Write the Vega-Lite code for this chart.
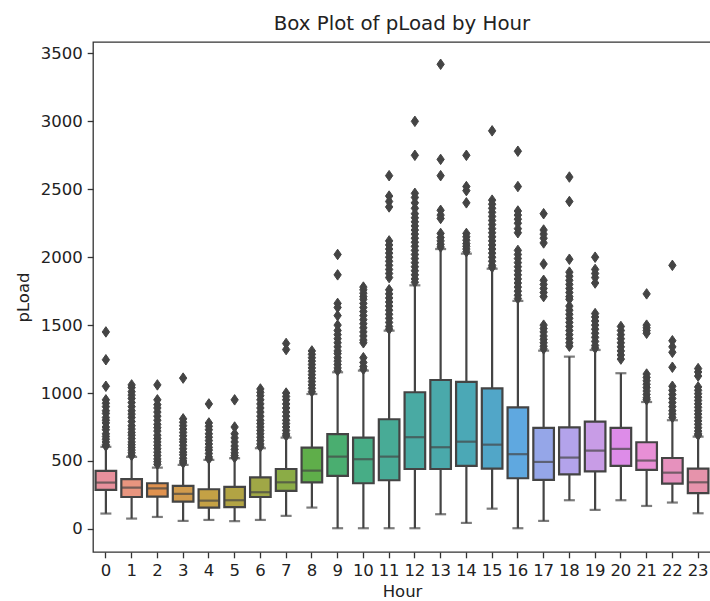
{
  "$schema": "https://vega.github.io/schema/vega-lite/v6.json",
  "autosize": "none",
  "padding": {"left": 93, "top": 42, "right": 0, "bottom": 49},
  "width": 618,
  "height": 510,
  "background": "white",
  "config": {
    "font": "DejaVu Sans",
    "view": {"stroke": "#333333", "strokeWidth": 1.3},
    "axis": {
      "domain": false,
      "grid": false,
      "tickColor": "#333333",
      "tickSize": 5.8,
      "tickWidth": 1.3,
      "labelFont": "DejaVu Sans",
      "labelFontSize": 16.5,
      "labelColor": "#222222",
      "labelPadding": 5,
      "titleFont": "DejaVu Sans",
      "titleFontSize": 16.5,
      "titleFontWeight": "normal",
      "titleColor": "#222222"
    }
  },
  "title": {
    "text": "Box Plot of pLoad by Hour",
    "font": "DejaVu Sans",
    "fontSize": 19.8,
    "fontWeight": "normal",
    "color": "#222222",
    "anchor": "middle",
    "offset": 8
  },
  "datasets": {
    "boxes": [
      {"Hour": 0, "low": 113, "q1": 287, "median": 341, "q3": 427, "high": 604},
      {"Hour": 1, "low": 76, "q1": 235, "median": 304, "q3": 366, "high": 530},
      {"Hour": 2, "low": 88, "q1": 238, "median": 299, "q3": 336, "high": 451},
      {"Hour": 3, "low": 59, "q1": 201, "median": 258, "q3": 316, "high": 471},
      {"Hour": 4, "low": 66, "q1": 157, "median": 208, "q3": 292, "high": 508},
      {"Hour": 5, "low": 57, "q1": 160, "median": 211, "q3": 309, "high": 520},
      {"Hour": 6, "low": 66, "q1": 235, "median": 270, "q3": 380, "high": 594},
      {"Hour": 7, "low": 96, "q1": 280, "median": 343, "q3": 441, "high": 672},
      {"Hour": 8, "low": 157, "q1": 343, "median": 429, "q3": 598, "high": 993},
      {"Hour": 9, "low": 5, "q1": 390, "median": 532, "q3": 697, "high": 1153},
      {"Hour": 10, "low": 5, "q1": 336, "median": 513, "q3": 672, "high": 1165},
      {"Hour": 11, "low": 5, "q1": 358, "median": 532, "q3": 807, "high": 1459},
      {"Hour": 12, "low": 5, "q1": 441, "median": 675, "q3": 1006, "high": 1793},
      {"Hour": 13, "low": 108, "q1": 441, "median": 601, "q3": 1096, "high": 2060},
      {"Hour": 14, "low": 44, "q1": 464, "median": 642, "q3": 1082, "high": 2026},
      {"Hour": 15, "low": 149, "q1": 444, "median": 620, "q3": 1035, "high": 1915},
      {"Hour": 16, "low": 5, "q1": 373, "median": 550, "q3": 895, "high": 1678},
      {"Hour": 17, "low": 59, "q1": 361, "median": 493, "q3": 743, "high": 1312},
      {"Hour": 18, "low": 211, "q1": 402, "median": 525, "q3": 748, "high": 1268},
      {"Hour": 19, "low": 140, "q1": 424, "median": 576, "q3": 790, "high": 1317},
      {"Hour": 20, "low": 211, "q1": 464, "median": 589, "q3": 743, "high": 1146},
      {"Hour": 21, "low": 169, "q1": 434, "median": 503, "q3": 638, "high": 934},
      {"Hour": 22, "low": 194, "q1": 333, "median": 414, "q3": 522, "high": 800},
      {"Hour": 23, "low": 115, "q1": 263, "median": 343, "q3": 444, "high": 679}
    ],
    "outliers": [
      {"Hour":0,"pLoad":1450},{"Hour":0,"pLoad":1245},{"Hour":0,"pLoad":1050},{"Hour":0,"pLoad":950},{"Hour":0,"pLoad":925},{"Hour":0,"pLoad":900},{"Hour":0,"pLoad":870},{"Hour":0,"pLoad":850},{"Hour":0,"pLoad":820},{"Hour":0,"pLoad":800},{"Hour":0,"pLoad":780},{"Hour":0,"pLoad":750},{"Hour":0,"pLoad":730},{"Hour":0,"pLoad":700},{"Hour":0,"pLoad":680},{"Hour":0,"pLoad":660},{"Hour":0,"pLoad":640},{"Hour":0,"pLoad":620},{"Hour":0,"pLoad":610},
      {"Hour":1,"pLoad":1060},{"Hour":1,"pLoad":1040},{"Hour":1,"pLoad":1010},{"Hour":1,"pLoad":985},{"Hour":1,"pLoad":960},{"Hour":1,"pLoad":930},{"Hour":1,"pLoad":900},{"Hour":1,"pLoad":870},{"Hour":1,"pLoad":845},{"Hour":1,"pLoad":820},{"Hour":1,"pLoad":790},{"Hour":1,"pLoad":760},{"Hour":1,"pLoad":735},{"Hour":1,"pLoad":710},{"Hour":1,"pLoad":690},{"Hour":1,"pLoad":665},{"Hour":1,"pLoad":640},{"Hour":1,"pLoad":620},{"Hour":1,"pLoad":600},{"Hour":1,"pLoad":580},{"Hour":1,"pLoad":560},{"Hour":1,"pLoad":540},
      {"Hour":2,"pLoad":1060},{"Hour":2,"pLoad":950},{"Hour":2,"pLoad":915},{"Hour":2,"pLoad":890},{"Hour":2,"pLoad":860},{"Hour":2,"pLoad":830},{"Hour":2,"pLoad":800},{"Hour":2,"pLoad":770},{"Hour":2,"pLoad":745},{"Hour":2,"pLoad":720},{"Hour":2,"pLoad":690},{"Hour":2,"pLoad":665},{"Hour":2,"pLoad":640},{"Hour":2,"pLoad":615},{"Hour":2,"pLoad":590},{"Hour":2,"pLoad":565},{"Hour":2,"pLoad":540},{"Hour":2,"pLoad":515},{"Hour":2,"pLoad":495},{"Hour":2,"pLoad":475},
      {"Hour":3,"pLoad":1110},{"Hour":3,"pLoad":810},{"Hour":3,"pLoad":785},{"Hour":3,"pLoad":760},{"Hour":3,"pLoad":735},{"Hour":3,"pLoad":710},{"Hour":3,"pLoad":685},{"Hour":3,"pLoad":660},{"Hour":3,"pLoad":640},{"Hour":3,"pLoad":615},{"Hour":3,"pLoad":590},{"Hour":3,"pLoad":565},{"Hour":3,"pLoad":545},{"Hour":3,"pLoad":520},{"Hour":3,"pLoad":500},{"Hour":3,"pLoad":485},
      {"Hour":4,"pLoad":920},{"Hour":4,"pLoad":780},{"Hour":4,"pLoad":755},{"Hour":4,"pLoad":730},{"Hour":4,"pLoad":700},{"Hour":4,"pLoad":675},{"Hour":4,"pLoad":650},{"Hour":4,"pLoad":625},{"Hour":4,"pLoad":600},{"Hour":4,"pLoad":580},{"Hour":4,"pLoad":555},{"Hour":4,"pLoad":530},{"Hour":4,"pLoad":515},
      {"Hour":5,"pLoad":950},{"Hour":5,"pLoad":750},{"Hour":5,"pLoad":700},{"Hour":5,"pLoad":670},{"Hour":5,"pLoad":640},{"Hour":5,"pLoad":610},{"Hour":5,"pLoad":585},{"Hour":5,"pLoad":560},{"Hour":5,"pLoad":540},{"Hour":5,"pLoad":525},
      {"Hour":6,"pLoad":1030},{"Hour":6,"pLoad":1005},{"Hour":6,"pLoad":980},{"Hour":6,"pLoad":950},{"Hour":6,"pLoad":920},{"Hour":6,"pLoad":890},{"Hour":6,"pLoad":860},{"Hour":6,"pLoad":830},{"Hour":6,"pLoad":800},{"Hour":6,"pLoad":775},{"Hour":6,"pLoad":750},{"Hour":6,"pLoad":725},{"Hour":6,"pLoad":700},{"Hour":6,"pLoad":675},{"Hour":6,"pLoad":650},{"Hour":6,"pLoad":625},{"Hour":6,"pLoad":605},
      {"Hour":7,"pLoad":1365},{"Hour":7,"pLoad":1320},{"Hour":7,"pLoad":1000},{"Hour":7,"pLoad":975},{"Hour":7,"pLoad":950},{"Hour":7,"pLoad":920},{"Hour":7,"pLoad":890},{"Hour":7,"pLoad":860},{"Hour":7,"pLoad":830},{"Hour":7,"pLoad":800},{"Hour":7,"pLoad":775},{"Hour":7,"pLoad":750},{"Hour":7,"pLoad":725},{"Hour":7,"pLoad":700},{"Hour":7,"pLoad":685},
      {"Hour":8,"pLoad":1310},{"Hour":8,"pLoad":1285},{"Hour":8,"pLoad":1260},{"Hour":8,"pLoad":1235},{"Hour":8,"pLoad":1210},{"Hour":8,"pLoad":1185},{"Hour":8,"pLoad":1160},{"Hour":8,"pLoad":1135},{"Hour":8,"pLoad":1110},{"Hour":8,"pLoad":1085},{"Hour":8,"pLoad":1060},{"Hour":8,"pLoad":1035},{"Hour":8,"pLoad":1010},
      {"Hour":9,"pLoad":2020},{"Hour":9,"pLoad":1870},{"Hour":9,"pLoad":1660},{"Hour":9,"pLoad":1630},{"Hour":9,"pLoad":1570},{"Hour":9,"pLoad":1500},{"Hour":9,"pLoad":1460},{"Hour":9,"pLoad":1430},{"Hour":9,"pLoad":1400},{"Hour":9,"pLoad":1370},{"Hour":9,"pLoad":1340},{"Hour":9,"pLoad":1310},{"Hour":9,"pLoad":1290},{"Hour":9,"pLoad":1260},{"Hour":9,"pLoad":1235},{"Hour":9,"pLoad":1210},{"Hour":9,"pLoad":1185},{"Hour":9,"pLoad":1165},
      {"Hour":10,"pLoad":1780},{"Hour":10,"pLoad":1760},{"Hour":10,"pLoad":1735},{"Hour":10,"pLoad":1710},{"Hour":10,"pLoad":1690},{"Hour":10,"pLoad":1660},{"Hour":10,"pLoad":1630},{"Hour":10,"pLoad":1600},{"Hour":10,"pLoad":1570},{"Hour":10,"pLoad":1540},{"Hour":10,"pLoad":1510},{"Hour":10,"pLoad":1480},{"Hour":10,"pLoad":1450},{"Hour":10,"pLoad":1420},{"Hour":10,"pLoad":1390},{"Hour":10,"pLoad":1370},{"Hour":10,"pLoad":1260},{"Hour":10,"pLoad":1225},{"Hour":10,"pLoad":1195},{"Hour":10,"pLoad":1175},
      {"Hour":11,"pLoad":2600},{"Hour":11,"pLoad":2450},{"Hour":11,"pLoad":2410},{"Hour":11,"pLoad":2370},{"Hour":11,"pLoad":2120},{"Hour":11,"pLoad":2090},{"Hour":11,"pLoad":2060},{"Hour":11,"pLoad":2030},{"Hour":11,"pLoad":2000},{"Hour":11,"pLoad":1970},{"Hour":11,"pLoad":1940},{"Hour":11,"pLoad":1910},{"Hour":11,"pLoad":1880},{"Hour":11,"pLoad":1850},{"Hour":11,"pLoad":1760},{"Hour":11,"pLoad":1730},{"Hour":11,"pLoad":1700},{"Hour":11,"pLoad":1670},{"Hour":11,"pLoad":1640},{"Hour":11,"pLoad":1610},{"Hour":11,"pLoad":1580},{"Hour":11,"pLoad":1550},{"Hour":11,"pLoad":1520},{"Hour":11,"pLoad":1490},{"Hour":11,"pLoad":1470},
      {"Hour":12,"pLoad":3000},{"Hour":12,"pLoad":2750},{"Hour":12,"pLoad":2470},{"Hour":12,"pLoad":2440},{"Hour":12,"pLoad":2400},{"Hour":12,"pLoad":2360},{"Hour":12,"pLoad":2320},{"Hour":12,"pLoad":2290},{"Hour":12,"pLoad":2260},{"Hour":12,"pLoad":2230},{"Hour":12,"pLoad":2200},{"Hour":12,"pLoad":2170},{"Hour":12,"pLoad":2140},{"Hour":12,"pLoad":2110},{"Hour":12,"pLoad":2080},{"Hour":12,"pLoad":2050},{"Hour":12,"pLoad":2020},{"Hour":12,"pLoad":1990},{"Hour":12,"pLoad":1960},{"Hour":12,"pLoad":1930},{"Hour":12,"pLoad":1900},{"Hour":12,"pLoad":1870},{"Hour":12,"pLoad":1840},{"Hour":12,"pLoad":1815},
      {"Hour":13,"pLoad":3420},{"Hour":13,"pLoad":2720},{"Hour":13,"pLoad":2600},{"Hour":13,"pLoad":2345},{"Hour":13,"pLoad":2310},{"Hour":13,"pLoad":2285},{"Hour":13,"pLoad":2175},{"Hour":13,"pLoad":2145},{"Hour":13,"pLoad":2120},{"Hour":13,"pLoad":2095},{"Hour":13,"pLoad":2075},
      {"Hour":14,"pLoad":2750},{"Hour":14,"pLoad":2520},{"Hour":14,"pLoad":2490},{"Hour":14,"pLoad":2400},{"Hour":14,"pLoad":2175},{"Hour":14,"pLoad":2150},{"Hour":14,"pLoad":2125},{"Hour":14,"pLoad":2100},{"Hour":14,"pLoad":2080},{"Hour":14,"pLoad":2060},{"Hour":14,"pLoad":2040},
      {"Hour":15,"pLoad":2930},{"Hour":15,"pLoad":2420},{"Hour":15,"pLoad":2390},{"Hour":15,"pLoad":2360},{"Hour":15,"pLoad":2330},{"Hour":15,"pLoad":2300},{"Hour":15,"pLoad":2270},{"Hour":15,"pLoad":2240},{"Hour":15,"pLoad":2210},{"Hour":15,"pLoad":2180},{"Hour":15,"pLoad":2150},{"Hour":15,"pLoad":2120},{"Hour":15,"pLoad":2090},{"Hour":15,"pLoad":2060},{"Hour":15,"pLoad":2030},{"Hour":15,"pLoad":2000},{"Hour":15,"pLoad":1970},{"Hour":15,"pLoad":1940},{"Hour":15,"pLoad":1925},
      {"Hour":16,"pLoad":2780},{"Hour":16,"pLoad":2520},{"Hour":16,"pLoad":2340},{"Hour":16,"pLoad":2310},{"Hour":16,"pLoad":2280},{"Hour":16,"pLoad":2250},{"Hour":16,"pLoad":2210},{"Hour":16,"pLoad":2180},{"Hour":16,"pLoad":2050},{"Hour":16,"pLoad":2020},{"Hour":16,"pLoad":1990},{"Hour":16,"pLoad":1960},{"Hour":16,"pLoad":1930},{"Hour":16,"pLoad":1900},{"Hour":16,"pLoad":1870},{"Hour":16,"pLoad":1840},{"Hour":16,"pLoad":1810},{"Hour":16,"pLoad":1780},{"Hour":16,"pLoad":1750},{"Hour":16,"pLoad":1720},{"Hour":16,"pLoad":1695},
      {"Hour":17,"pLoad":2320},{"Hour":17,"pLoad":2200},{"Hour":17,"pLoad":2170},{"Hour":17,"pLoad":2140},{"Hour":17,"pLoad":2105},{"Hour":17,"pLoad":1950},{"Hour":17,"pLoad":1830},{"Hour":17,"pLoad":1800},{"Hour":17,"pLoad":1770},{"Hour":17,"pLoad":1740},{"Hour":17,"pLoad":1710},{"Hour":17,"pLoad":1500},{"Hour":17,"pLoad":1475},{"Hour":17,"pLoad":1450},{"Hour":17,"pLoad":1420},{"Hour":17,"pLoad":1395},{"Hour":17,"pLoad":1370},{"Hour":17,"pLoad":1345},{"Hour":17,"pLoad":1325},
      {"Hour":18,"pLoad":2590},{"Hour":18,"pLoad":2410},{"Hour":18,"pLoad":1985},{"Hour":18,"pLoad":1890},{"Hour":18,"pLoad":1860},{"Hour":18,"pLoad":1830},{"Hour":18,"pLoad":1800},{"Hour":18,"pLoad":1770},{"Hour":18,"pLoad":1740},{"Hour":18,"pLoad":1710},{"Hour":18,"pLoad":1690},{"Hour":18,"pLoad":1640},{"Hour":18,"pLoad":1610},{"Hour":18,"pLoad":1580},{"Hour":18,"pLoad":1550},{"Hour":18,"pLoad":1520},{"Hour":18,"pLoad":1490},{"Hour":18,"pLoad":1460},{"Hour":18,"pLoad":1430},{"Hour":18,"pLoad":1400},{"Hour":18,"pLoad":1370},{"Hour":18,"pLoad":1345},
      {"Hour":19,"pLoad":2000},{"Hour":19,"pLoad":1910},{"Hour":19,"pLoad":1880},{"Hour":19,"pLoad":1850},{"Hour":19,"pLoad":1810},{"Hour":19,"pLoad":1585},{"Hour":19,"pLoad":1560},{"Hour":19,"pLoad":1530},{"Hour":19,"pLoad":1500},{"Hour":19,"pLoad":1470},{"Hour":19,"pLoad":1440},{"Hour":19,"pLoad":1410},{"Hour":19,"pLoad":1380},{"Hour":19,"pLoad":1350},{"Hour":19,"pLoad":1330},
      {"Hour":20,"pLoad":1490},{"Hour":20,"pLoad":1460},{"Hour":20,"pLoad":1430},{"Hour":20,"pLoad":1400},{"Hour":20,"pLoad":1370},{"Hour":20,"pLoad":1340},{"Hour":20,"pLoad":1310},{"Hour":20,"pLoad":1280},{"Hour":20,"pLoad":1250},
      {"Hour":21,"pLoad":1730},{"Hour":21,"pLoad":1500},{"Hour":21,"pLoad":1480},{"Hour":21,"pLoad":1460},{"Hour":21,"pLoad":1440},{"Hour":21,"pLoad":1140},{"Hour":21,"pLoad":1115},{"Hour":21,"pLoad":1090},{"Hour":21,"pLoad":1065},{"Hour":21,"pLoad":1040},{"Hour":21,"pLoad":1015},{"Hour":21,"pLoad":990},{"Hour":21,"pLoad":965},{"Hour":21,"pLoad":950},
      {"Hour":22,"pLoad":1940},{"Hour":22,"pLoad":1385},{"Hour":22,"pLoad":1340},{"Hour":22,"pLoad":1300},{"Hour":22,"pLoad":1190},{"Hour":22,"pLoad":1050},{"Hour":22,"pLoad":1020},{"Hour":22,"pLoad":990},{"Hour":22,"pLoad":960},{"Hour":22,"pLoad":930},{"Hour":22,"pLoad":900},{"Hour":22,"pLoad":870},{"Hour":22,"pLoad":845},{"Hour":22,"pLoad":820},
      {"Hour":23,"pLoad":1180},{"Hour":23,"pLoad":1155},{"Hour":23,"pLoad":1125},{"Hour":23,"pLoad":1045},{"Hour":23,"pLoad":1020},{"Hour":23,"pLoad":995},{"Hour":23,"pLoad":970},{"Hour":23,"pLoad":945},{"Hour":23,"pLoad":920},{"Hour":23,"pLoad":895},{"Hour":23,"pLoad":870},{"Hour":23,"pLoad":845},{"Hour":23,"pLoad":820},{"Hour":23,"pLoad":795},{"Hour":23,"pLoad":770},{"Hour":23,"pLoad":745},{"Hour":23,"pLoad":720},{"Hour":23,"pLoad":700},{"Hour":23,"pLoad":690}
    ]
  },
  "encoding": {
    "x": {
      "field": "Hour",
      "type": "ordinal",
      "title": "Hour",
      "scale": {"paddingInner": 0, "paddingOuter": 0},
      "axis": {"labelAngle": 0, "titlePadding": 4}
    }
  },
  "layer": [
    {
      "data": {"name": "boxes"},
      "mark": {"type": "rule", "color": "#444444", "strokeWidth": 2.2},
      "encoding": {
        "y": {
          "field": "low",
          "type": "quantitative",
          "title": "pLoad",
          "scale": {"domain": [-170, 3584], "nice": false, "zero": false},
          "axis": {"values": [0, 500, 1000, 1500, 2000, 2500, 3000, 3500], "format": "d", "titlePadding": 9}
        },
        "y2": {"field": "high"}
      }
    },
    {
      "data": {"name": "boxes"},
      "mark": {"type": "tick", "color": "#444444", "size": 11, "thickness": 2.2, "orient": "horizontal"},
      "encoding": {"y": {"field": "low", "type": "quantitative"}}
    },
    {
      "data": {"name": "boxes"},
      "mark": {"type": "tick", "color": "#444444", "size": 11, "thickness": 2.2, "orient": "horizontal"},
      "encoding": {"y": {"field": "high", "type": "quantitative"}}
    },
    {
      "data": {"name": "boxes"},
      "mark": {"type": "bar", "width": {"band": 0.8}, "stroke": "#444444", "strokeWidth": 2.2, "fillOpacity": 1},
      "encoding": {
        "y": {"field": "q1", "type": "quantitative"},
        "y2": {"field": "q3"},
        "color": {
          "field": "Hour",
          "type": "ordinal",
          "legend": null,
          "scale": {
            "range": ["#e8909c", "#e8957f", "#e0924f", "#d19b4d", "#c4a145", "#b2a444", "#a0a746", "#8bac46", "#5fae4a", "#4aae70", "#47ad86", "#48ab96", "#49aaa3", "#4aa9ab", "#4ba8b6", "#51a6c8", "#5fa8e0", "#95a6e8", "#b3a3eb", "#c89ce6", "#dd8ce8", "#e88fd6", "#e691bd", "#e693ab"]
          }
        }
      }
    },
    {
      "data": {"name": "boxes"},
      "mark": {"type": "tick", "color": "#444444", "size": 20.6, "thickness": 2.2, "orient": "horizontal"},
      "encoding": {"y": {"field": "median", "type": "quantitative"}}
    },
    {
      "data": {"name": "outliers"},
      "mark": {"type": "point", "shape": "M0,-1L0.7,0L0,1L-0.7,0Z", "filled": true, "color": "#444444", "stroke": "#444444", "strokeWidth": 1, "opacity": 1, "size": 110},
      "encoding": {"y": {"field": "pLoad", "type": "quantitative"}}
    }
  ]
}
